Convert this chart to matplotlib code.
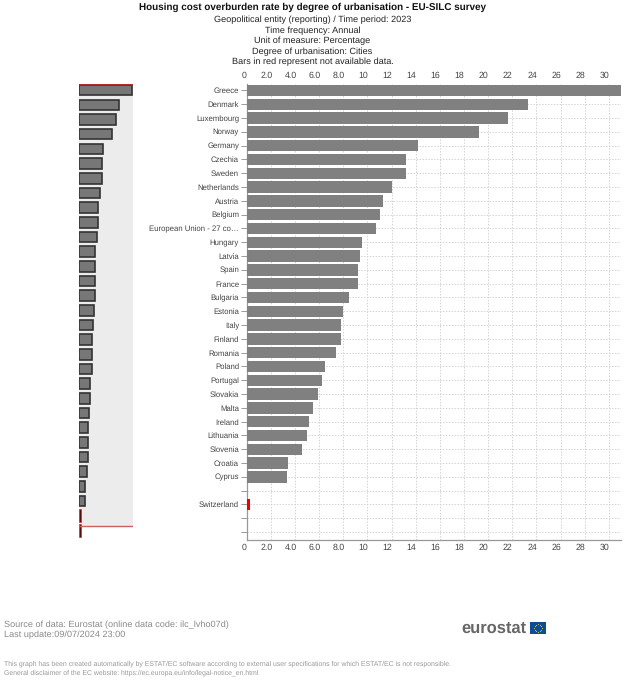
import matplotlib
matplotlib.use('Agg')
import matplotlib.pyplot as plt
from matplotlib.patches import Rectangle
from matplotlib.transforms import ScaledTranslation
import numpy as np

plt.rcParams['font.family'] = ['Liberation Sans', 'DejaVu Sans']
plt.rcParams['text.hinting'] = 'none'

countries = ['Greece', 'Denmark', 'Luxembourg', 'Norway', 'Germany', 'Czechia', 'Sweden',
             'Netherlands', 'Austria', 'Belgium', 'European Union - 27 co…', 'Hungary',
             'Latvia', 'Spain', 'France', 'Bulgaria', 'Estonia', 'Italy', 'Finland',
             'Romania', 'Poland', 'Portugal', 'Slovakia', 'Malta', 'Ireland', 'Lithuania',
             'Slovenia', 'Croatia', 'Cyprus', '', 'Switzerland', '', '']
values = [31.0, 23.3, 21.6, 19.2, 14.2, 13.2, 13.2, 12.0, 11.3, 11.0, 10.7, 9.55, 9.4, 9.2, 9.2,
          8.5, 8.0, 7.8, 7.8, 7.4, 6.5, 6.2, 5.9, 5.5, 5.2, 5.0, 4.55, 3.4, 3.35, 0, 0.3, 0, 0]
red_rows = [30]
nav_values = values[:29]
nav_red = [0.9, 0.9]

xticks = list(range(0, 31, 2))
xlabels = ['0', '2.0', '4.0', '6.0', '8.0'] + [str(v) for v in xticks[5:]]

W, H = 625, 680
GREY = '#808080'
TXT = '#444444'


def px_axes(fig, left, top, right, bottom):
    return fig.add_axes([left / W, 1 - bottom / H, (right - left) / W, (bottom - top) / H])


fig = plt.figure(figsize=(W / 100, H / 100), dpi=100, facecolor='white')

# main chart
ax = px_axes(fig, 246.7, 84, 621, 539.5)
y = np.arange(len(countries))
colors = ['#ee0000' if i in red_rows else GREY for i in y]
ax.barh(y, values, height=0.83, color=colors, zorder=3)
ax.set_xlim(0, 31)
ax.set_ylim(32.54, -0.47)
ax.set_yticks(y)
ax.set_yticklabels(countries, fontsize=5.6, color=TXT)
ax.set_xticks(xticks)
ax.set_xticklabels(xlabels, fontsize=6.3, color=TXT)
ax.tick_params(axis='x', length=0, pad=3, top=True, labeltop=True, bottom=True, labelbottom=True)
ax.tick_params(axis='y', length=4, width=0.7, color='#999999', pad=1.5)
ax.grid(True, linestyle=(0, (1.5, 1.5)), linewidth=0.7, color='#d4d4d4', zorder=0)
ax.set_axisbelow(True)
for s in ['top', 'right']:
    ax.spines[s].set_visible(False)
for s in ['left', 'bottom']:
    ax.spines[s].set_color('#999999')
    ax.spines[s].set_linewidth(0.9)
# the value labels sit a bit left of their grid lines, the 0 less so
for i, tick in enumerate(ax.xaxis.get_major_ticks()):
    shift = ScaledTranslation((-2.5 if i == 0 else -4.5) / 100, 0, fig.dpi_scale_trans)
    tick.label1.set_transform(tick.label1.get_transform() + shift)
    tick.label2.set_transform(tick.label2.get_transform() + shift)

# navigator on the left
nav = px_axes(fig, 79, 84, 133, 540)
nav.set_xlim(0, 31.5)
nav.set_ylim(30.65, -0.42)
nav.axhspan(-0.42, 29.7, color='#ececec', lw=0, zorder=0)
nav.barh(np.arange(len(nav_values)), nav_values, height=0.72, color='#777777',
         edgecolor='#333333', linewidth=1.2, zorder=2)
nav.barh([29, 30], nav_red, height=0.9, color='#5a0a0a', edgecolor='#cc2222', linewidth=0.4, zorder=2)
nav.plot([0, 31.5], [-0.4, -0.4], color='#b03030', lw=1, zorder=3)
nav.plot([0, 31.5], [29.7, 29.7], color='#d06060', lw=1, zorder=3)
nav.axis('off')

# titles
fig.text(312.5 / W, 1 - 7 / H, 'Housing cost overburden rate by degree of urbanisation - EU-SILC survey',
         ha='center', va='center', fontsize=7.1, fontweight='bold', color='#111111')
subtitle = ['Geopolitical entity (reporting) / Time period: 2023', 'Time frequency: Annual',
            'Unit of measure: Percentage', 'Degree of urbanisation: Cities',
            'Bars in red represent not available data.']
for i, line in enumerate(subtitle):
    fig.text(312.5 / W, 1 - (20 + i * 10.5) / H, line, ha='center', va='center', fontsize=6.6, color='#222222')

# footer
fig.text(3.5 / W, 1 - 624.5 / H, 'Source of data: Eurostat (online data code: ilc_lvho07d)',
         va='center', fontsize=6.6, color='#8a8a8a')
fig.text(3.5 / W, 1 - 635 / H, 'Last update:09/07/2024 23:00', va='center', fontsize=6.6, color='#8a8a8a')
fig.text(3.5 / W, 1 - 664 / H,
         'This graph has been created automatically by ESTAT/EC software according to external user specifications for which ESTAT/EC is not responsible.',
         va='center', fontsize=4.92, color='#999999')
fig.text(3.5 / W, 1 - 672.5 / H, 'General disclaimer of the EC website: https://ec.europa.eu/info/legal-notice_en.html',
         va='center', fontsize=4.92, color='#999999')

# logo
fig.text(461 / W, 1 - 628 / H, 'eurostat', va='center', fontsize=11.9, fontweight='bold', color='#666666')
fig.add_artist(Rectangle((530 / W, 1 - 634 / H), 16 / W, 12 / H, transform=fig.transFigure,
                         facecolor='#0e4c96', edgecolor='none'))
star_a = np.linspace(0, 2 * np.pi, 12, endpoint=False)
fig.add_artist(plt.Line2D((538 + 3.6 * np.cos(star_a)) / W, 1 - (628 + 3.6 * np.sin(star_a)) / H,
                          transform=fig.transFigure, linestyle='none', marker='o', markersize=0.7,
                          color='#d8c840', markeredgewidth=0))

fig.savefig('out.png', dpi=100)
